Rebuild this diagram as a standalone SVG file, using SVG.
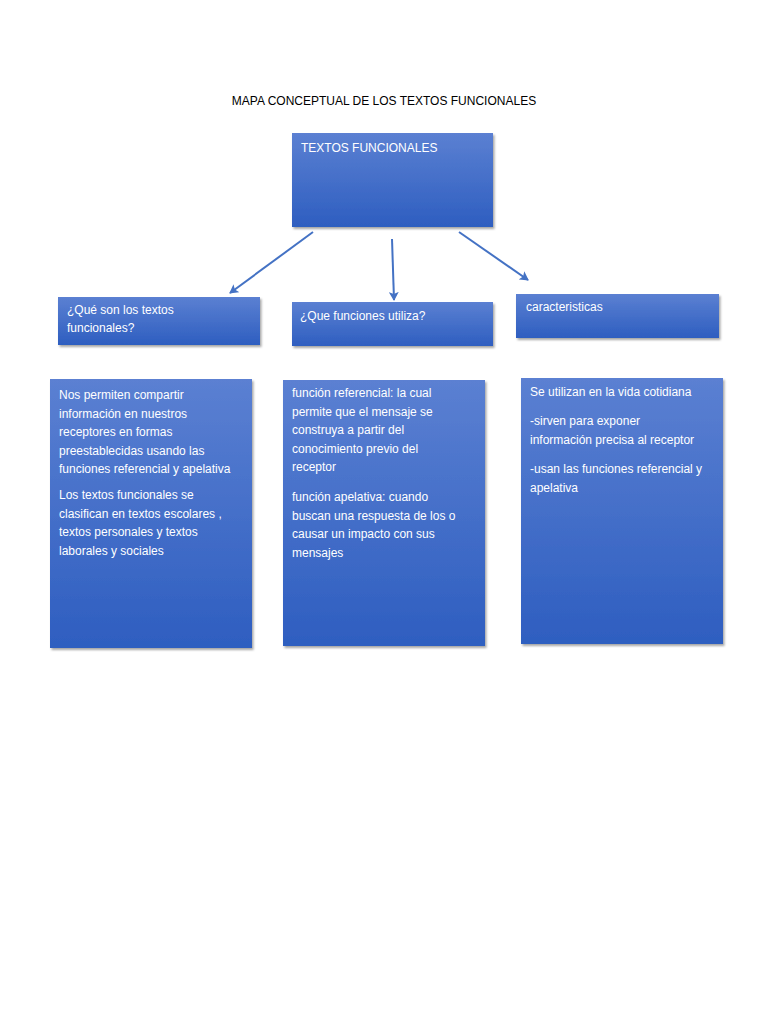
<svg xmlns="http://www.w3.org/2000/svg" width="768" height="1024" viewBox="0 0 768 1024">
<defs>
<linearGradient id="g" x1="0" y1="0" x2="0" y2="1"><stop offset="0" stop-color="#5b80d2"/><stop offset="1" stop-color="#2e5ec0"/></linearGradient>
<filter id="s" x="-5%" y="-5%" width="115%" height="120%"><feDropShadow dx="1.5" dy="2" stdDeviation="1.2" flood-color="#000" flood-opacity="0.35"/></filter>
<marker id="a" markerWidth="10" markerHeight="10" refX="8" refY="5" orient="auto" markerUnits="userSpaceOnUse"><path d="M0,0 L9,5 L0,10 L2,5 Z" fill="#4472c4"/></marker>
</defs>
<style>
rect{fill:url(#g);filter:url(#s)}
text{font-family:"Liberation Sans",Arial,sans-serif;font-size:12px;fill:#fff}
.t{fill:#000;font-size:12px}
line{stroke:#4472c4;stroke-width:2;marker-end:url(#a)}
</style>
<rect x="0" y="0" width="768" height="1024" style="fill:#fff;filter:none"/>
<text class="t" x="384" y="105" text-anchor="middle">MAPA CONCEPTUAL DE LOS TEXTOS FUNCIONALES</text>
<g id="connectors">
<line x1="313" y1="232" x2="230" y2="293"/>
<line x1="392" y1="239" x2="394" y2="300"/>
<line x1="459" y1="232" x2="528" y2="280"/>
</g>
<g id="n0"><rect x="292" y="133" width="201" height="94"/><text x="301" y="152">TEXTOS FUNCIONALES</text></g>
<g id="n1"><rect x="58" y="297" width="202" height="48"/><text x="67" y="314">¿Qué son los textos</text><text x="67" y="332">funcionales?</text></g>
<g id="n2"><rect x="292" y="302" width="201" height="44"/><text x="300" y="320">¿Que funciones utiliza?</text></g>
<g id="n3"><rect x="516" y="294" width="203" height="44"/><text x="526" y="311">caracteristicas</text></g>
<g id="n4"><rect x="50" y="379" width="202" height="269"/>
<text x="59" y="399"> Nos permiten compartir</text><text x="59" y="417.5">información en nuestros</text><text x="59" y="436">receptores en formas</text><text x="59" y="454.5">preestablecidas usando las</text><text x="59" y="473">funciones referencial y apelativa</text>
<text x="59" y="499">Los textos funcionales se</text><text x="59" y="517.5">clasifican en textos escolares ,</text><text x="59" y="536">textos personales y textos</text><text x="59" y="554.5">laborales y sociales</text></g>
<g id="n5"><rect x="283" y="380" width="202" height="266"/>
<text x="292" y="397">función referencial: la cual</text><text x="292" y="415.5">permite que el mensaje se</text><text x="292" y="434">construya a partir del</text><text x="292" y="452.5">conocimiento previo del</text><text x="292" y="471">receptor</text>
<text x="292" y="501">función apelativa: cuando</text><text x="292" y="519.5">buscan una respuesta de los o</text><text x="292" y="538">causar un impacto con sus</text><text x="292" y="556.5">mensajes</text></g>
<g id="n6"><rect x="521" y="378" width="202" height="266"/>
<text x="530" y="396">Se utilizan en la vida cotidiana</text>
<text x="530" y="425">-sirven para exponer</text><text x="530" y="443.5">información precisa al receptor</text>
<text x="530" y="473">-usan las funciones referencial  y</text><text x="530" y="491.5">apelativa</text></g>
</svg>
